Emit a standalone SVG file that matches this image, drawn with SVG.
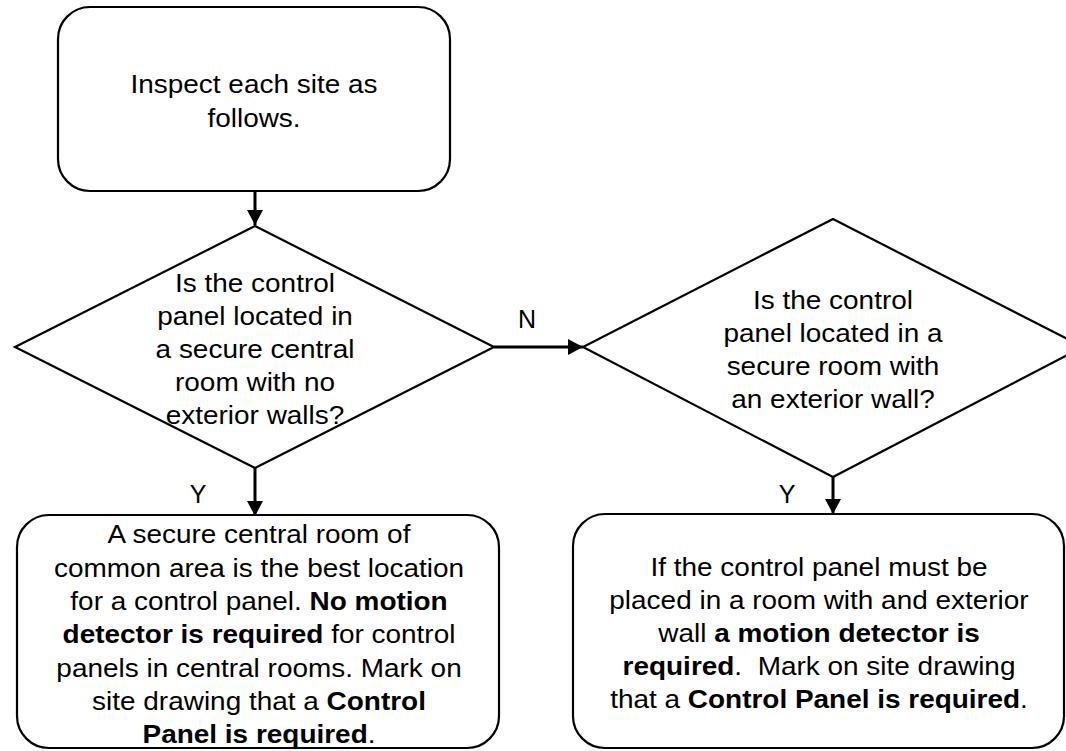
<svg xmlns="http://www.w3.org/2000/svg" width="1066" height="751" viewBox="0 0 1066 751">
<defs>
<style>
.shape{fill:#fff;stroke:#000;stroke-width:2.2}
.t{font-family:"Liberation Sans",Arial,sans-serif;font-size:26px;fill:#000;text-anchor:middle}
.b{font-weight:bold}
.lbl{font-family:"Liberation Sans",Arial,sans-serif;font-size:25px;fill:#000;text-anchor:middle}
.conn{stroke:#000;stroke-width:3;fill:none}
</style>
<marker id="ah" markerUnits="userSpaceOnUse" markerWidth="16" markerHeight="18" refX="15" refY="8" orient="auto">
<path d="M0,0 L15,8 L0,16 Z" fill="#000"/>
</marker>
</defs>
<rect width="1066" height="751" fill="#fff"/>

<g id="connectors">
<line class="conn" x1="255" y1="191" x2="255" y2="225" marker-end="url(#ah)"/>
<line class="conn" x1="494" y1="347" x2="583" y2="347" marker-end="url(#ah)"/>
<line class="conn" x1="255" y1="468" x2="255" y2="516" marker-end="url(#ah)"/>
<line class="conn" x1="833" y1="477" x2="833" y2="514" marker-end="url(#ah)"/>
<text class="lbl" x="527" y="328">N</text>
<text class="lbl" x="198" y="503">Y</text>
<text class="lbl" x="787" y="503">Y</text>
</g>

<g id="start">
<rect class="shape" x="58" y="7" width="392" height="184" rx="32"/>
<g transform="translate(254 0) scale(1.075 1)">
<text class="t" x="0" y="93">Inspect each site as</text>
<text class="t" x="0" y="127">follows.</text>
</g>
</g>

<g id="decision1">
<polygon class="shape" points="255,226 494,347 255,468 15,347"/>
<g transform="translate(255 0) scale(1.075 1)">
<text class="t" x="0" y="292">Is the control</text>
<text class="t" x="0" y="325">panel located in</text>
<text class="t" x="0" y="358">a secure central</text>
<text class="t" x="0" y="391">room with no</text>
<text class="t" x="0" y="424">exterior walls?</text>
</g>
</g>

<g id="decision2">
<polygon class="shape" points="833,219 1083,347 833,477 583,347"/>
<g transform="translate(833 0) scale(1.075 1)">
<text class="t" x="0" y="309">Is the control</text>
<text class="t" x="0" y="342">panel located in a</text>
<text class="t" x="0" y="375">secure room with</text>
<text class="t" x="0" y="408">an exterior wall?</text>
</g>
</g>

<g id="result1">
<rect class="shape" x="17" y="515" width="482" height="233" rx="32"/>
<g transform="translate(259 0) scale(1.075 1)">
<text class="t" x="0" y="543">A secure central room of</text>
<text class="t" x="0" y="577">common area is the best location</text>
<text class="t" x="0" y="610">for a control panel. <tspan class="b">No motion</tspan></text>
<text class="t" x="0" y="643"><tspan class="b">detector is required</tspan> for control</text>
<text class="t" x="0" y="677">panels in central rooms. Mark on</text>
<text class="t" x="0" y="710">site drawing that a <tspan class="b">Control</tspan></text>
<text class="t" x="0" y="743"><tspan class="b">Panel is required</tspan>.</text>
</g>
</g>

<g id="result2">
<rect class="shape" x="573" y="514" width="491" height="234" rx="32"/>
<g transform="translate(819 0) scale(1.075 1)">
<text class="t" x="0" y="576">If the control panel must be</text>
<text class="t" x="0" y="609">placed in a room with and exterior</text>
<text class="t" x="0" y="642">wall <tspan class="b">a motion detector is</tspan></text>
<text class="t" x="0" y="675"><tspan class="b">required</tspan>.&#160; Mark on site drawing</text>
<text class="t" x="0" y="708">that a <tspan class="b">Control Panel is required</tspan>.</text>
</g>
</g>
</svg>
